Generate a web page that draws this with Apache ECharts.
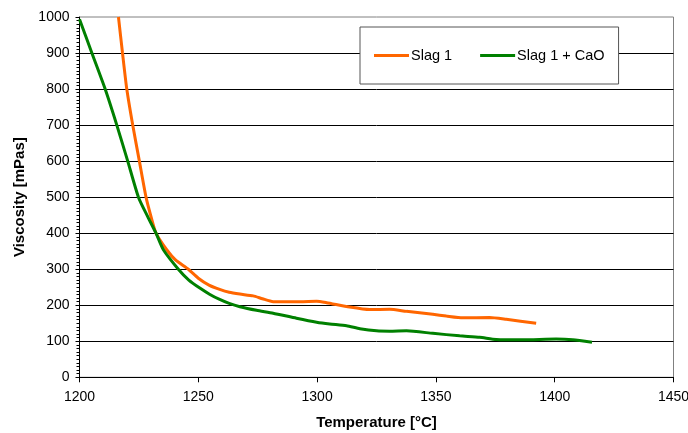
<!DOCTYPE html>
<html><head><meta charset="utf-8">
<script src="https://cdn.jsdelivr.net/npm/echarts@6/dist/echarts.min.js"></script>
<style>html,body{margin:0;padding:0;background:#fff}#c{width:688px;height:433px}</style>
</head><body><div id="c"></div>
<script>
const seriesNames = ['Slag 1', 'Slag 1 + CaO'];
const tempSlag1 = [1216.4,1218.1,1219.9,1222.4,1225.2,1228,1230.1,1232.2,1236.7,1240.5,1245.8,1250,1254.5,1259,1263,1267.5,1273.1,1277,1281.5,1292.9,1299.8,1304,1313.7,1322.1,1330.5,1337.6,1348.7,1354.4,1361.3,1372.6,1379.6,1392.2];
const viscSlag1 = [1000,900,800,700,600,500,446,400,354,325,300,275,256,244,236,231,226,218,210,210,211,207,195,188,189,183,175,170,165,166,161,150];
const tempCaO = [1200,1205.2,1210.8,1215.7,1220.3,1224.8,1228.7,1232.2,1235.3,1241.6,1246,1250.8,1254.9,1259,1263,1267.5,1274.5,1281.5,1291.3,1299.8,1305.3,1312.4,1318,1325,1330.5,1337.6,1348.7,1360,1368.4,1375.4,1386.6,1400.6,1407.6,1415.7];
const viscCaO = [994,900,800,700,600,500,446,400,354,300,270,247,230,216,205,196,186,178,164,153,148,143,135,129,128,129,122,115,111,105,104,106,104,97];

const pair = (xs, ys) => xs.map((x, i) => [x, ys[i]]);
const font = 'Liberation Sans, Arial, sans-serif';
const plain = v => String(v);
const chart = echarts.init(document.getElementById('c'), null, {renderer: 'canvas'});
chart.setOption({
  animation: false,
  backgroundColor: '#fff',
  grid: {left: 79.5, right: 14.5, top: 17, bottom: 55.7, containLabel: false, outerBoundsMode: 'none',
         show: true, borderColor: '#808080', borderWidth: 1, backgroundColor: 'transparent'},
  legend: {
    left: 360, top: 27, padding: [21, 14, 21, 14], itemGap: 28,
    itemWidth: 35, itemHeight: 3, icon: 'rect',
    backgroundColor: '#fff', borderColor: '#555', borderWidth: 1,
    textStyle: {fontFamily: font, fontSize: 14.5, color: '#000', padding: [0,0,0,-3]},
    data: seriesNames
  },
  xAxis: {
    type: 'value', min: 1200, max: 1450, interval: 50,
    name: 'Temperature [°C]', nameLocation: 'middle', nameGap: 38,
    nameTextStyle: {fontFamily: font, fontSize: 15, fontWeight: 'bold', color: '#000'},
    axisLine: {show: true, onZero: false, lineStyle: {color: '#000', width: 1}},
    axisTick: {show: true, length: 5, lineStyle: {color: '#000'}},
    axisLabel: {fontFamily: font, fontSize: 14, color: '#000', margin: 13, formatter: plain},
    splitLine: {show: false}
  },
  yAxis: {
    type: 'value', min: 0, max: 1000, interval: 100,
    name: 'Viscosity [mPas]', nameLocation: 'middle', nameGap: 49,
    nameTextStyle: {fontFamily: font, fontSize: 15, fontWeight: 'bold', color: '#000'},
    axisLine: {show: true, lineStyle: {color: '#000', width: 1}},
    axisTick: {show: true, length: 4, lineStyle: {color: '#000'}},
    minorTick: {show: true, splitNumber: 10, length: 3, lineStyle: {color: '#000', width: 1}},
    axisLabel: {fontFamily: font, fontSize: 14, color: '#000', margin: 10, formatter: plain},
    splitLine: {show: true, showMaxLine: false, lineStyle: {color: '#000', width: 1}},
    minorSplitLine: {show: false}
  },
  series: [{
    name: seriesNames[0], type: 'line', showSymbol: false, symbol: 'none', smooth: 0.2,
    data: pair(tempSlag1, viscSlag1), clip: true,
    lineStyle: {color: '#FF6600', width: 3}, itemStyle: {color: '#FF6600'}
  }, {
    name: seriesNames[1], type: 'line', showSymbol: false, symbol: 'none', smooth: 0.2,
    data: pair(tempCaO, viscCaO), clip: true,
    lineStyle: {color: '#008000', width: 3}, itemStyle: {color: '#008000'}
  }]
});
</script></body></html>
